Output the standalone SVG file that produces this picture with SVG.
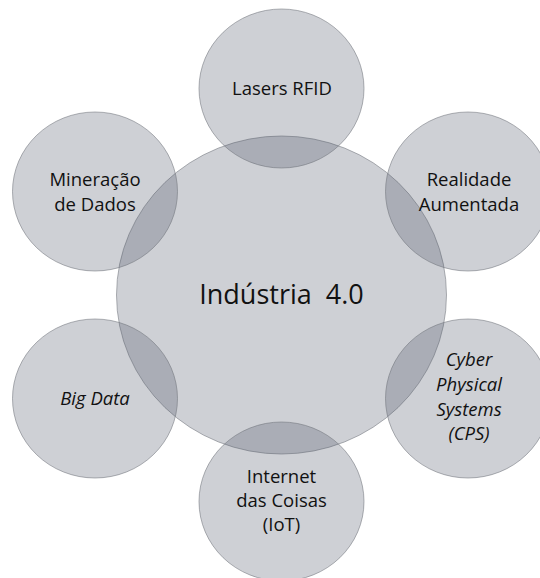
<svg xmlns="http://www.w3.org/2000/svg" width="540" height="578" viewBox="0 0 540 578">
  <style>
    .bubble { fill: #4a5263; fill-opacity: 0.27; stroke: #6f737a; stroke-opacity: 0.55; stroke-width: 1; }
    .label { font-family: "Open Sans", Lato, "Liberation Sans", sans-serif; font-size: 18.5px; fill: #111111; text-anchor: middle; }
    .italic { font-style: italic; }
    .title { font-family: "Open Sans", Lato, "Liberation Sans", sans-serif; font-size: 27px; fill: #111111; text-anchor: middle; }
  </style>
  <rect width="540" height="578" fill="#ffffff"/>

  <!-- central hub -->
  <g id="industria40">
    <ellipse class="bubble" cx="281.5" cy="295" rx="165" ry="159"/>
    <text class="title" x="281.5" y="304" xml:space="preserve">Indústria  4.0</text>
  </g>

  <!-- satellite topics -->
  <g id="lasers-rfid">
    <ellipse class="bubble" cx="281.5" cy="88.5" rx="82.5" ry="79.5"/>
    <text class="label" x="282" y="95">Lasers RFID</text>
  </g>

  <g id="mineracao-dados">
    <ellipse class="bubble" cx="95" cy="191.5" rx="82.5" ry="79.5"/>
    <text class="label" x="95" y="186">Mineração</text>
    <text class="label" x="95" y="210.5">de Dados</text>
  </g>

  <g id="realidade-aumentada">
    <ellipse class="bubble" cx="468" cy="191.5" rx="82.5" ry="79.5"/>
    <text class="label" x="469" y="186">Realidade</text>
    <text class="label" x="469" y="210.5">Aumentada</text>
  </g>

  <g id="big-data">
    <ellipse class="bubble" cx="95" cy="398.5" rx="82.5" ry="79.5"/>
    <text class="label italic" x="95" y="404.5">Big Data</text>
  </g>

  <g id="cps">
    <ellipse class="bubble" cx="468" cy="398.5" rx="82.5" ry="79.5"/>
    <text class="label italic" x="469" y="366">Cyber</text>
    <text class="label italic" x="469" y="391">Physical</text>
    <text class="label italic" x="469" y="415.5">Systems</text>
    <text class="label italic" x="469" y="440">(CPS)</text>
  </g>

  <g id="iot">
    <ellipse class="bubble" cx="281.5" cy="501.5" rx="82.5" ry="79.5"/>
    <text class="label" x="281.5" y="483">Internet</text>
    <text class="label" x="281.5" y="507">das Coisas</text>
    <text class="label" x="281.5" y="531">(IoT)</text>
  </g>
</svg>
